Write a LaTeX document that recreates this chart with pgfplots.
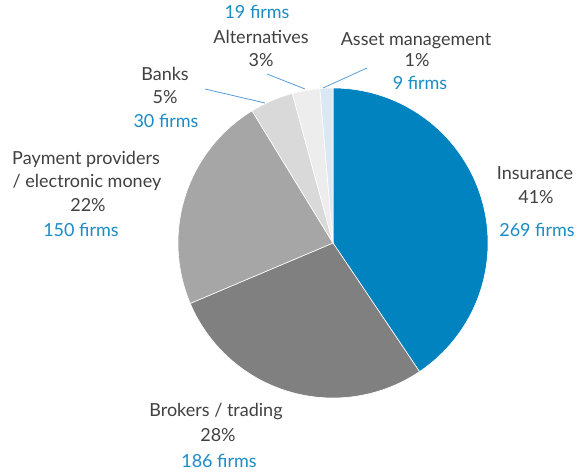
\documentclass[border=0pt]{standalone}
\usepackage{pgfplots}
\pgfplotsset{compat=1.18}
\usepackage{fontspec}
\setmainfont{Lato}
\definecolor{cIns}{HTML}{0083BE}
\definecolor{cBro}{HTML}{808080}
\definecolor{cPay}{HTML}{A6A6A6}
\definecolor{cBan}{HTML}{D9D9D9}
\definecolor{cAlt}{HTML}{EDEDED}
\definecolor{cAss}{HTML}{DAE8F4}
\definecolor{txt}{HTML}{404040}
\definecolor{txtb}{HTML}{1A8CC6}
\definecolor{lead}{HTML}{5B9BD5}
\newcommand\lab[3]{\node[text=#3,anchor=center,inner sep=0pt,text height=13bp,text depth=4bp] at (axis cs:#1) {#2};}
\begin{document}
\begin{tikzpicture}
\fontsize{18bp}{21bp}\selectfont
\begin{axis}[x=1bp,y=1bp,xmin=0,xmax=580,ymin=0,ymax=475,hide axis,clip=false,scale only axis]
\path (axis cs:0,0) rectangle (axis cs:580,475);
% firms: Insurance 269, Brokers 186, Payment 150, Banks 30, Alternatives 19, Asset mgmt 9 (total 663)
\addplot[fill=cIns,draw=white,line width=0.6pt,domain={90-360*269/663}:{90},samples=120] ({333+155*cos(x)},{232+155*sin(x)}) -- (axis cs:333,232) -- cycle;
\addplot[fill=cBro,draw=white,line width=0.6pt,domain={90-360*(269+186)/663}:{90-360*269/663},samples=100] ({333+155*cos(x)},{232+155*sin(x)}) -- (axis cs:333,232) -- cycle;
\addplot[fill=cPay,draw=white,line width=0.6pt,domain={90-360*(269+186+150)/663}:{90-360*(269+186)/663},samples=80] ({333+155*cos(x)},{232+155*sin(x)}) -- (axis cs:333,232) -- cycle;
\addplot[fill=cBan,draw=white,line width=0.6pt,domain={90-360*(269+186+150+30)/663}:{90-360*(269+186+150)/663},samples=30] ({333+155*cos(x)},{232+155*sin(x)}) -- (axis cs:333,232) -- cycle;
\addplot[fill=cAlt,draw=white,line width=0.6pt,domain={90-360*(269+186+150+30+19)/663}:{90-360*(269+186+150+30)/663},samples=20] ({333+155*cos(x)},{232+155*sin(x)}) -- (axis cs:333,232) -- cycle;
\addplot[fill=cAss,draw=white,line width=0.6pt,domain={90-360*(269+186+150+30+19+9)/663}:{90-360*(269+186+150+30+19)/663},samples=10] ({333+155*cos(x)},{232+155*sin(x)}) -- (axis cs:333,232) -- cycle;
% leader lines
\addplot[lead,line width=0.8pt,no marks] coordinates {(205,386) (265,372)};
\addplot[lead,line width=0.8pt,no marks] coordinates {(267,401) (305,386)};
\addplot[lead,line width=0.8pt,no marks] coordinates {(323,387) (367,407)};
% labels
\lab{257,461}{19 firms}{txtb}
\lab{261,436}{Alternatives}{txt}
\lab{261,413}{3\%}{txt}
\lab{416,434}{Asset management}{txt}
\lab{417,413}{1\%}{txt}
\lab{420,390}{9 firms}{txtb}
\lab{165,399}{Banks}{txt}
\lab{165,376}{5\%}{txt}
\lab{166,352}{30 firms}{txtb}
\lab{86,315}{Payment providers}{txt}
\lab{87,292}{/ electronic money}{txt}
\lab{88,268}{22\%}{txt}
\lab{81,243}{150 firms}{txtb}
\lab{535,300}{Insurance}{txt}
\lab{536,276}{41\%}{txt}
\lab{537,243}{269 firms}{txtb}
\lab{216,63}{Brokers / trading}{txt}
\lab{218,38}{28\%}{txt}
\lab{219,12}{186 firms}{txtb}
\end{axis}
\end{tikzpicture}
\end{document}
